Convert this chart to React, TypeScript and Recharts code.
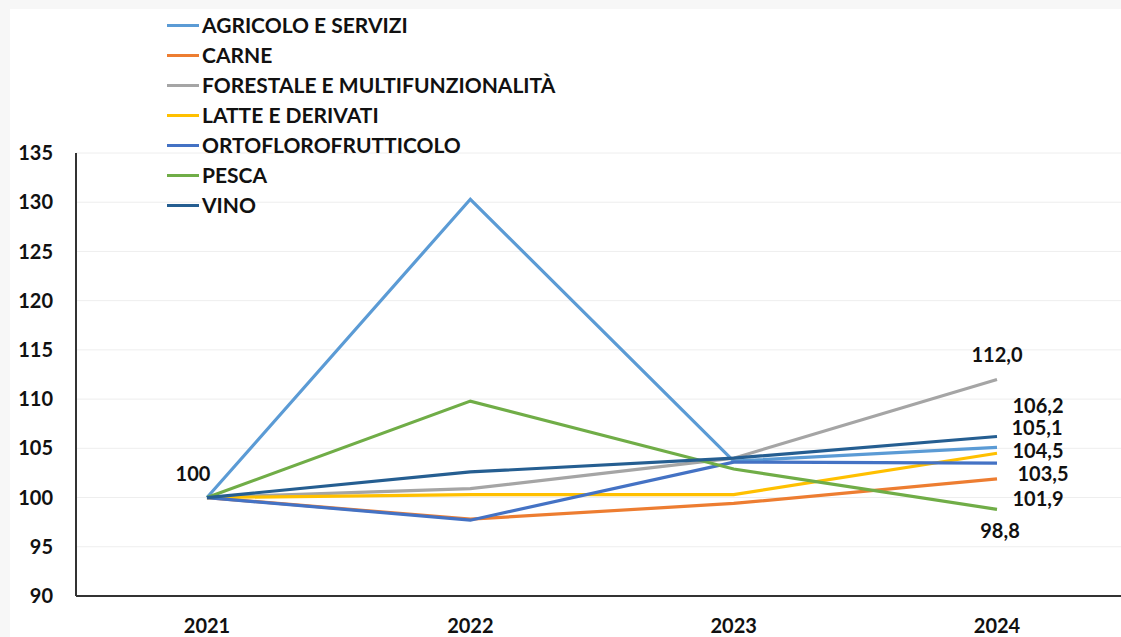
import { LineChart, Line, XAxis, YAxis, CartesianGrid, LabelList } from "recharts";

const years = ["2021", "2022", "2023", "2024"];

const agricolo = [100, 130.3, 103.7, 105.1];
const carne = [100, 97.8, 99.4, 101.9];
const forestale = [100, 100.9, 104.0, 112.0];
const latte = [100, 100.3, 100.3, 104.5];
const orto = [100, 97.7, 103.6, 103.5];
const pesca = [100, 109.8, 102.9, 98.8];
const vino = [100, 102.6, 104.0, 106.2];

const yTicks = [90, 95, 100, 105, 110, 115, 120, 125, 130, 135];

const data = years.map((year, i) => ({
  year,
  agricolo: agricolo[i],
  carne: carne[i],
  forestale: forestale[i],
  latte: latte[i],
  orto: orto[i],
  pesca: pesca[i],
  vino: vino[i],
}));

const series = [
  { key: "agricolo", name: "AGRICOLO E SERVIZI", color: "#5B9BD5" },
  { key: "carne", name: "CARNE", color: "#ED7D31" },
  { key: "forestale", name: "FORESTALE E MULTIFUNZIONALITÀ", color: "#A5A5A5" },
  { key: "latte", name: "LATTE E DERIVATI", color: "#FFC000" },
  { key: "orto", name: "ORTOFLOROFRUTTICOLO", color: "#4472C4" },
  { key: "pesca", name: "PESCA", color: "#70AD47" },
  { key: "vino", name: "VINO", color: "#255E91" },
];

// label nudges for the last point, so they don't pile up
const endOffsets: Record<string, [number, number]> = {
  forestale: [0, -25],
  vino: [41, -32],
  agricolo: [40, -20],
  latte: [41, -3],
  orto: [46, 10],
  carne: [41, 19],
  pesca: [3, 21],
};

const FONT = "Lato, 'Open Sans', sans-serif";

function LegendBox() {
  return (
    <div style={{ fontFamily: FONT, fontWeight: 700, fontSize: 21, color: "#111", lineHeight: "30px" }}>
      {series.map((s) => (
        <div key={s.key} style={{ display: "flex", alignItems: "center", height: 30 }}>
          <div style={{ width: 32, height: 3, background: s.color, marginRight: 3 }} />
          <span>{s.name}</span>
        </div>
      ))}
    </div>
  );
}

export default function App() {
  return (
    <div
      style={{
        position: "fixed",
        top: 0,
        left: 0,
        width: 1121,
        height: 637,
        overflow: "hidden",
        background: "#f7f7f7",
      }}
    >
      <div style={{ position: "absolute", left: 10, top: 9, width: 1111, height: 628, background: "#fff" }} />
      <div style={{ position: "absolute", left: 0, top: 0 }}>
        <LineChart width={1128} height={637} data={data} margin={{ top: 153, right: 0, left: 0, bottom: 0 }}>
          <CartesianGrid vertical={false} stroke="#eeeeee" />
          <XAxis
            dataKey="year"
            height={41}
            padding={{ left: 131, right: 131 }}
            tickLine={false}
            axisLine={{ stroke: "#333", strokeWidth: 2 }}
            tickMargin={17}
            tick={{ fill: "#111", fontSize: 20, fontWeight: 700, fontFamily: FONT }}
          />
          <YAxis
            width={76}
            domain={[90, 135]}
            ticks={yTicks}
            tickLine={false}
            axisLine={{ stroke: "#333", strokeWidth: 2 }}
            tickMargin={17}
            tick={{ fill: "#111", fontSize: 20, fontWeight: 700, fontFamily: FONT }}
          />
          {series.map((s) => (
            <Line
              key={s.key}
              dataKey={s.key}
              name={s.name}
              type="linear"
              stroke={s.color}
              strokeWidth={3.2}
              dot={false}
              isAnimationActive={false}
            >
              <LabelList
                dataKey={s.key}
                content={(props: any) => {
                  const { x, y, value, index } = props;
                  if (index === 0 && s.key === "agricolo") {
                    return (
                      <text x={x - 14} y={y - 25} textAnchor="middle" dominantBaseline="central"
                        fill="#111" fontSize={20} fontWeight={700} fontFamily={FONT}>
                        {String(value)}
                      </text>
                    );
                  }
                  if (index !== 3) return null;
                  const [dx, dy] = endOffsets[s.key];
                  return (
                    <text x={x + dx} y={y + dy} textAnchor="middle" dominantBaseline="central"
                      fill="#111" fontSize={20} fontWeight={700} fontFamily={FONT}>
                      {Number(value).toFixed(1).replace(".", ",")}
                    </text>
                  );
                }}
              />
            </Line>
          ))}
        </LineChart>
      </div>
      <div style={{ position: "absolute", left: 167, top: 10 }}>
        <LegendBox />
      </div>
    </div>
  );
}
